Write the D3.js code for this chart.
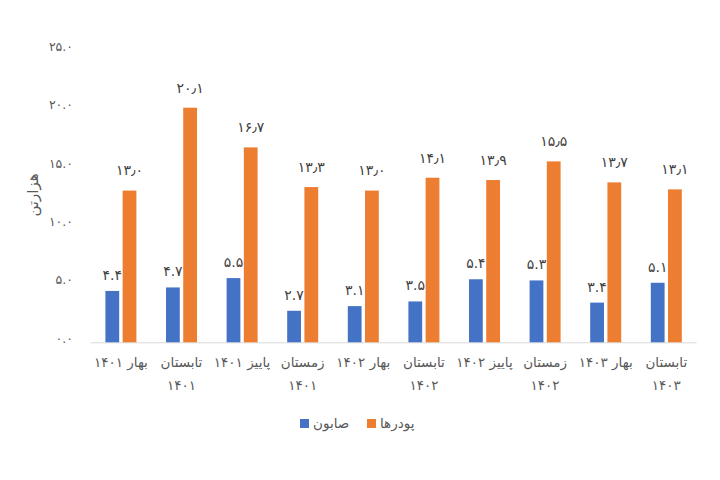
<!DOCTYPE html>
<html><head><meta charset="utf-8">
<script src="https://cdn.jsdelivr.net/npm/d3@7"></script>
<style>body{margin:0;background:#fff}svg{display:block}</style>
</head><body>
<svg id="c" width="720" height="480"></svg>
<script>
const categories = ["بهار ۱۴۰۱","تابستان ۱۴۰۱","پاییز ۱۴۰۱","زمستان ۱۴۰۱","بهار ۱۴۰۲","تابستان ۱۴۰۲","پاییز ۱۴۰۲","زمستان ۱۴۰۲","بهار ۱۴۰۳","تابستان ۱۴۰۳"];
const seriesNames = ["صابون","پودرها"];
const soap = [4.4,4.7,5.5,2.7,3.1,3.5,5.4,5.3,3.4,5.1];
const powders = [13.0,20.1,16.7,13.3,13.0,14.1,13.9,15.5,13.7,13.1];
const yTicks = [0,5,10,15,20,25];
const yTitle = "هزارتن";
const colors = ["#4472C4","#ED7D31"];

const fa = s => String(s).replace(/[0-9]/g, d => "۰۱۲۳۴۵۶۷۸۹"[+d]);
const font = "'DejaVu Sans', sans-serif";
const svg = d3.select("#c");

const x = d3.scaleBand().domain(categories).range([90.6, 696.6]);
const xi = d3.scaleBand().domain(seriesNames).range([0, 31]).paddingInner(0.2);
const y = d3.scaleLinear().domain([0, 25]).range([342.3, 50.5]);

// y axis labels
svg.append("g").selectAll("text").data(yTicks).join("text")
  .attr("x", 73).attr("y", d => y(d) - 4).attr("dy", "0.35em")
  .attr("text-anchor", "end").attr("font-family", font).attr("font-size", 12.5)
  .attr("fill", "#595959").text(d => fa(d3.format(".1f")(d)));

svg.append("text").attr("transform", "translate(33,195) rotate(-90)")
  .attr("text-anchor", "middle").attr("dy", "0.35em").attr("font-family", font)
  .attr("font-size", 15).attr("fill", "#595959").text(yTitle);

// baseline
svg.append("line").attr("x1", x.range()[0]).attr("x2", x.range()[1])
  .attr("y1", y(0) + 0.5).attr("y2", y(0) + 0.5).attr("stroke", "#d9d9d9").attr("stroke-width", 1);

const data = [soap, powders];
const g = svg.append("g");
data.forEach((vals, si) => {
  const off = 15.5;
  g.selectAll(null).data(vals).join("rect")
    .attr("x", (d, i) => x(categories[i]) + x.bandwidth() / 2 - off + xi(seriesNames[si]))
    .attr("width", xi.bandwidth())
    .attr("y", d => y(d)).attr("height", d => y(0) - y(d))
    .attr("fill", colors[si]);
  g.selectAll(null).data(vals).join("text")
    .attr("x", (d, i) => x(categories[i]) + x.bandwidth() / 2 - off + xi(seriesNames[si]) + xi.bandwidth() / 2)
    .attr("y", d => y(d) - (si === 0 ? 16 : 20)).attr("dy", "0.35em")
    .attr("text-anchor", "middle").attr("font-family", font).attr("font-size", 14)
    .attr("fill", "#404040")
    .text(d => si === 0 ? fa(d.toFixed(1)) : fa(d.toFixed(1)).replace(".", "٫"));
});

// category labels
const cg = svg.append("g");
categories.forEach(c => {
  const cx = x(c) + x.bandwidth() / 2;
  const lines = c.length > 10 ? c.split(" ") : [c];
  lines.forEach((ln, k) => {
    cg.append("text").attr("x", cx).attr("y", 362.7 + k * 22.5).attr("dy", "0.35em")
      .attr("text-anchor", "middle").attr("font-family", font).attr("font-size", 13.5)
      .attr("fill", "#595959").text(ln);
  });
});

// legend
const legX = [300, 367];
seriesNames.forEach((n, i) => {
  svg.append("rect").attr("x", legX[i]).attr("y", 419).attr("width", 9).attr("height", 9).attr("fill", colors[i]);
  svg.append("text").attr("x", legX[i] + 13).attr("y", 423.5).attr("dy", "0.35em")
    .attr("font-family", font).attr("font-size", 13.5).attr("fill", "#595959").text(n);
});
</script>
</body></html>
